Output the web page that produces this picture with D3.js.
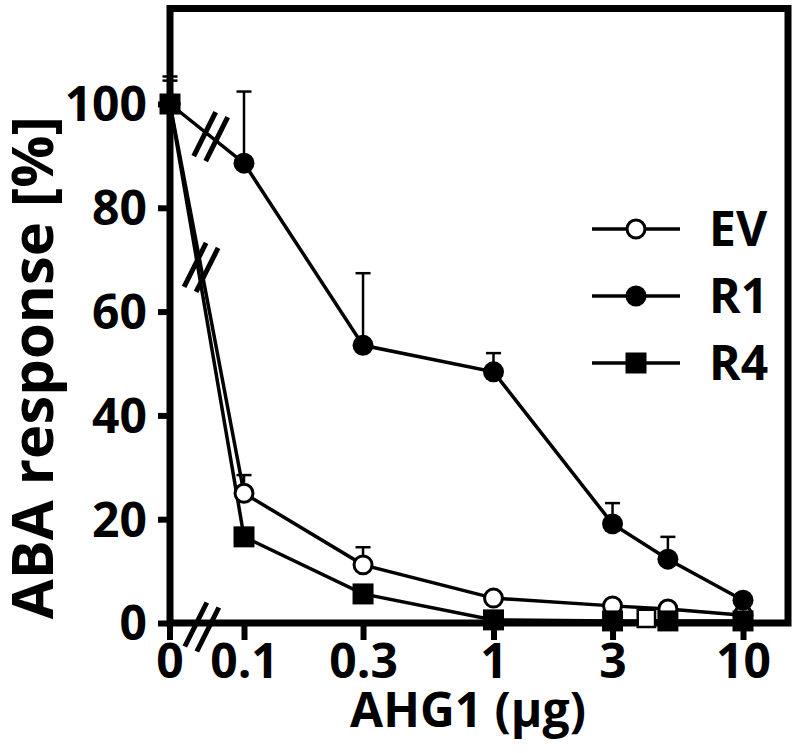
<!DOCTYPE html>
<html>
<head>
<meta charset="utf-8">
<script src="https://cdn.jsdelivr.net/npm/d3@7"></script>
<style>
  body { margin: 0; background: #fff; }
  text { font-family: "Open Sans", sans-serif; font-weight: bold; fill: #000; }
</style>
</head>
<body>
<script>
// doses of AHG1 (ug), 5 ug is an extra point without a tick label
const doses = [0, 0.1, 0.3, 1, 3, 5, 10];
const tickDoses = [0.1, 0.3, 1, 3, 10];
const yTicks = [0, 20, 40, 60, 80, 100];

const evMean = [100, 25.0, 11.2, 4.8, 3.3, 2.7, 1.5];
const evErr  = [4.5, 3.5, 3.4, 0, 0, 0, 0];
const r1Mean = [100, 88.6, 53.5, 48.4, 19.1, 12.3, 4.4];
const r1Err  = [5.3, 13.8, 13.9, 3.6, 4.0, 4.3, 0];
const r4Mean = [100, 16.6, 5.6, 0.6, 0.4, 0.4, 0.4];
const r4Err  = [0, 0, 0, 0, 0, 0, 0];

// a lone open square sitting on the axis near 4 ug
const strayDose = [4.1];
const strayVal = [0.5];

const seriesNames = ["EV", "R1", "R4"];

const W = 797, H = 753;
const plotLeft = 170, plotRight = 788, plotTop = 8.5, plotBottom = 623;

const svg = d3.select("body").append("svg")
    .attr("width", W)
    .attr("height", H);

const xLog = d3.scaleLog().domain([0.1, 10]).range([244, 743]);
const xPos = d => d === 0 ? plotLeft : xLog(d);
const y = d3.scaleLinear().domain([0, 118.4]).range([plotBottom, plotTop]);

const series = [
    {name: seriesNames[0], mean: evMean, err: evErr, shape: "circle", fill: "#fff"},
    {name: seriesNames[1], mean: r1Mean, err: r1Err, shape: "circle", fill: "#000"},
    {name: seriesNames[2], mean: r4Mean, err: r4Err, shape: "square", fill: "#000"}
].map(s => ({...s, pts: doses.map((d, i) => ({d, v: s.mean[i], e: s.err[i]}))}));

function symbolPath(s) {
    if (s.shape === "square") return d3.symbol(d3.symbolSquare, 441)();
    if (s.fill === "#fff") return d3.symbol(d3.symbolCircle, 254)();
    return d3.symbol(d3.symbolCircle, 346)();
}

// y axis
const yAxis = svg.append("g")
    .attr("transform", `translate(${plotLeft},0)`)
    .call(d3.axisLeft(y).tickValues(yTicks).tickSize(12).tickPadding(11));
yAxis.select(".domain").remove();
yAxis.selectAll("line").attr("stroke", "#000").attr("stroke-width", 6);
yAxis.selectAll("text").attr("font-size", 48).attr("font-family", "Open Sans").attr("dy", "0.35em");

// x axis
const xAxis = svg.append("g")
    .attr("transform", `translate(0,${plotBottom})`)
    .call(d3.axisBottom(xLog).tickValues(tickDoses).tickFormat(d => String(d)).tickSize(17).tickPadding(4));
xAxis.select(".domain").remove();
xAxis.selectAll("line").attr("stroke", "#000").attr("stroke-width", 6);
xAxis.selectAll("text").attr("font-size", 48).attr("font-family", "Open Sans");

const zeroTick = svg.append("g").attr("transform", `translate(${xPos(0)},${plotBottom})`);
zeroTick.append("line").attr("y2", 17).attr("stroke", "#000").attr("stroke-width", 6);
zeroTick.append("text").attr("y", 21).attr("dy", "0.71em")
    .attr("text-anchor", "middle").attr("font-size", 48).text("0");

// frame
svg.append("rect")
    .attr("x", plotLeft).attr("y", plotTop)
    .attr("width", plotRight - plotLeft).attr("height", plotBottom - plotTop)
    .attr("fill", "none").attr("stroke", "#000").attr("stroke-width", 7);

// axis titles
svg.append("text")
    .attr("transform", `translate(53,${(plotTop + plotBottom) / 2 + 52}) rotate(-90)`)
    .attr("text-anchor", "middle")
    .attr("font-size", 58)
    .text("ABA response [%]");

svg.append("text")
    .attr("x", 468).attr("y", 727)
    .attr("text-anchor", "middle")
    .attr("font-size", 48)
    .text("AHG1 (µg)");

// error bars (upper only)
const plot = svg.append("g");
series.forEach(s => {
    const eb = plot.append("g").selectAll("g")
        .data(s.pts.filter(p => p.e > 0))
        .join("g");
    eb.append("line")
        .attr("x1", p => xPos(p.d)).attr("x2", p => xPos(p.d))
        .attr("y1", p => y(p.v)).attr("y2", p => y(p.v + p.e))
        .attr("stroke", "#000").attr("stroke-width", 2.5);
    eb.append("line")
        .attr("x1", p => xPos(p.d) - 7.5).attr("x2", p => xPos(p.d) + 7.5)
        .attr("y1", p => y(p.v + p.e)).attr("y2", p => y(p.v + p.e))
        .attr("stroke", "#000").attr("stroke-width", 2.5);
});

// lines
const line = d3.line().x(p => xPos(p.d)).y(p => y(p.v));
series.forEach(s => {
    plot.append("path")
        .attr("d", line(s.pts))
        .attr("fill", "none")
        .attr("stroke", "#000")
        .attr("stroke-width", 3.5);
});

// axis break marks
function drawBreak(cx, cy) {
    [[-6, -2.5], [6, 2.5]].forEach(([ox, oy]) => {
        svg.append("line")
            .attr("x1", cx + ox - 11).attr("y1", cy + oy + 22)
            .attr("x2", cx + ox + 11).attr("y2", cy + oy - 22)
            .attr("stroke", "#000").attr("stroke-width", 5);
    });
}
const along = (s, f) => [
    xPos(doses[0]) + f * (xPos(doses[1]) - xPos(doses[0])),
    y(s.mean[0]) + f * (y(s.mean[1]) - y(s.mean[0]))
];
drawBreak(...along(series[1], 0.55));
drawBreak(...along(series[0], 0.42));
drawBreak(xPos(0) + 0.43 * (xPos(0.1) - xPos(0)), plotBottom + 4);

// markers
series.forEach(s => {
    plot.append("g").selectAll("path")
        .data(s.pts)
        .join("path")
        .attr("transform", p => `translate(${xPos(p.d)},${y(p.v)})`)
        .attr("d", symbolPath(s))
        .attr("fill", s.fill)
        .attr("stroke", "#000")
        .attr("stroke-width", s.fill === "#fff" ? 3 : 0);
});

plot.append("g").selectAll("path")
    .data(strayDose.map((d, i) => ({d, v: strayVal[i]})))
    .join("path")
    .attr("transform", p => `translate(${xPos(p.d)},${y(p.v) - 2})`)
    .attr("d", d3.symbol(d3.symbolSquare, 300)())
    .attr("fill", "#fff").attr("stroke", "#000").attr("stroke-width", 2.5);

// legend
const legend = svg.append("g")
    .selectAll("g")
    .data(series)
    .join("g")
    .attr("transform", (s, i) => `translate(592,${229 + i * 67})`);
legend.append("line")
    .attr("x1", 0).attr("x2", 88)
    .attr("stroke", "#000").attr("stroke-width", 3.5);
legend.append("path")
    .attr("transform", "translate(44,0)")
    .attr("d", s => symbolPath(s))
    .attr("fill", s => s.fill)
    .attr("stroke", "#000")
    .attr("stroke-width", s => s.fill === "#fff" ? 3 : 0);
legend.append("text")
    .attr("x", 117).attr("y", 17)
    .attr("font-size", 48)
    .text(s => s.name);
</script>
</body>
</html>
